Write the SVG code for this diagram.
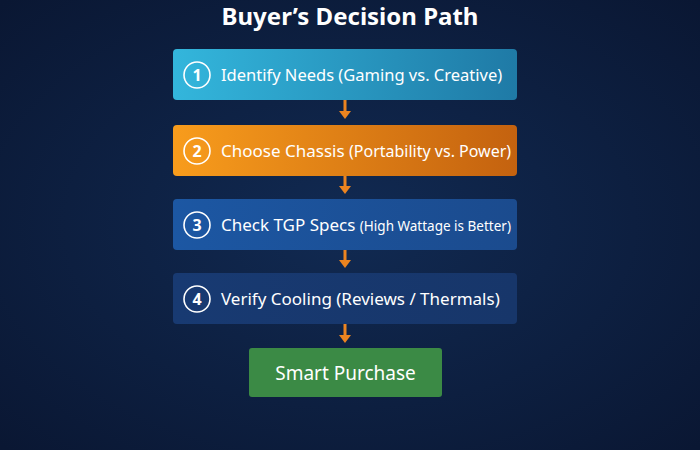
<svg xmlns="http://www.w3.org/2000/svg" width="700" height="450" viewBox="0 0 700 450">
<defs>
<radialGradient id="bg" cx="50%" cy="50%" r="70%">
<stop offset="0" stop-color="#112a52"/>
<stop offset="1" stop-color="#0a1733"/>
</radialGradient>
<linearGradient id="g1" x1="0" y1="0" x2="1" y2="0">
<stop offset="0" stop-color="#33b6dc"/>
<stop offset="1" stop-color="#1f7aa6"/>
</linearGradient>
<linearGradient id="g2" x1="0" y1="0" x2="1" y2="0">
<stop offset="0" stop-color="#f89c1c"/>
<stop offset="1" stop-color="#c4620f"/>
</linearGradient>
<linearGradient id="g3" x1="0" y1="0" x2="1" y2="0">
<stop offset="0" stop-color="#1c57a3"/>
<stop offset="1" stop-color="#1b4b8e"/>
</linearGradient>
<linearGradient id="g4" x1="0" y1="0" x2="1" y2="0">
<stop offset="0" stop-color="#183a72"/>
<stop offset="1" stop-color="#17366a"/>
</linearGradient>
<style>
.t{font-family:"Noto Sans","Open Sans",sans-serif;fill:#ffffff;}
.title{font-size:24px;font-weight:bold;}
.lbl{font-size:16.5px;}
.big{font-size:17px;}
.sm{font-size:16px;}
.xs{font-size:13.5px;}
.num{font-size:16px;font-weight:bold;text-anchor:middle;}
.ring{fill:none;stroke:#ffffff;stroke-width:1.6;}
.con{stroke:#ec8420;stroke-width:3;fill:none;}
.head{fill:#ec8420;}
</style>
</defs>
<rect width="700" height="450" fill="url(#bg)"/>
<text class="t title" x="350" y="25" text-anchor="middle">Buyer’s Decision Path</text>
<g id="connectors">
<line class="con" x1="345" y1="100" x2="345" y2="112"/>
<polygon class="head" points="339,111 351,111 345,119"/>
<line class="con" x1="345" y1="176" x2="345" y2="187"/>
<polygon class="head" points="339,186 351,186 345,194"/>
<line class="con" x1="345" y1="250" x2="345" y2="261"/>
<polygon class="head" points="339,260 351,260 345,268"/>
<line class="con" x1="345" y1="324" x2="345" y2="336"/>
<polygon class="head" points="339,335 351,335 345,343"/>
</g>
<g id="n1">
<rect x="173" y="49" width="344" height="51" rx="4" fill="url(#g1)"/>
<circle class="ring" cx="197" cy="75" r="13"/>
<text class="t num" x="197" y="81">1</text>
<text class="t lbl" x="221" y="81">Identify Needs (Gaming vs. Creative)</text>
</g>
<g id="n2">
<rect x="173" y="125" width="344" height="51" rx="4" fill="url(#g2)"/>
<circle class="ring" cx="197" cy="151" r="13"/>
<text class="t num" x="197" y="157">2</text>
<text class="t big" x="221" y="157">Choose Chassis <tspan class="sm">(Portability vs. Power)</tspan></text>
</g>
<g id="n3">
<rect x="173" y="199" width="344" height="51" rx="4" fill="url(#g3)"/>
<circle class="ring" cx="197" cy="225" r="13"/>
<text class="t num" x="197" y="231">3</text>
<text class="t big" x="221" y="231">Check TGP Specs <tspan class="xs">(High Wattage is Better)</tspan></text>
</g>
<g id="n4">
<rect x="173" y="273" width="344" height="51" rx="4" fill="url(#g4)"/>
<circle class="ring" cx="197" cy="299" r="13"/>
<text class="t num" x="197" y="305">4</text>
<text class="t big" x="221" y="305">Verify Cooling (Reviews / Thermals)</text>
</g>
<g id="n5">
<rect x="249" y="348" width="193" height="49" rx="3" fill="#3b8a45"/>
<text class="t" x="345.5" y="380" text-anchor="middle" font-size="19">Smart Purchase</text>
</g>
</svg>
